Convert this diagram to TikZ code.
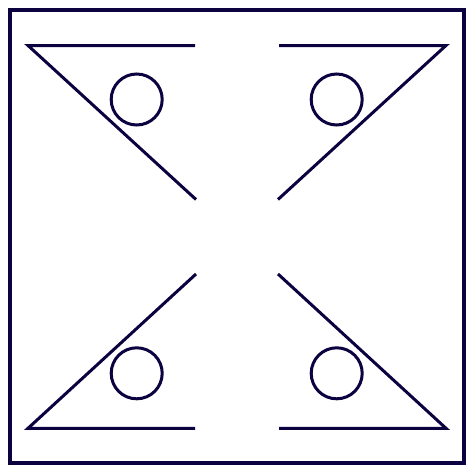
\documentclass[tikz,border=0pt]{standalone}
\definecolor{ink}{RGB}{12,2,64}
\begin{document}
\begin{tikzpicture}[x=1pt,y=-1pt,
  stroke/.style={draw=ink,line width=3pt},
  frame/.style={draw=ink,line width=4pt},
  ball/.style={draw=ink,line width=3pt}]
\useasboundingbox (0,0) rectangle (474,474);
\draw[frame] (9.5,10) rectangle (463.5,463);
% top-left
\coordinate (tlA) at (28,45.5);
\coordinate (tlB) at (195,45.5);
\coordinate (tlC) at (196,199.5);
\draw[stroke] (tlB) -- (tlA) -- (tlC);
\draw[ball] (136.7,99.5) circle (25.5);
% top-right
\coordinate (trA) at (446,45.5);
\coordinate (trB) at (279,45.5);
\coordinate (trC) at (278,199.5);
\draw[stroke] (trB) -- (trA) -- (trC);
\draw[ball] (336.7,99.5) circle (25.5);
% bottom-left
\coordinate (blA) at (28,428.3);
\coordinate (blB) at (195,428.3);
\coordinate (blC) at (196,274);
\draw[stroke] (blB) -- (blA) -- (blC);
\draw[ball] (136.7,373.3) circle (25.5);
% bottom-right
\coordinate (brA) at (446,428.3);
\coordinate (brB) at (279,428.3);
\coordinate (brC) at (278,274);
\draw[stroke] (brB) -- (brA) -- (brC);
\draw[ball] (336.7,373.3) circle (25.5);
\end{tikzpicture}
\end{document}
